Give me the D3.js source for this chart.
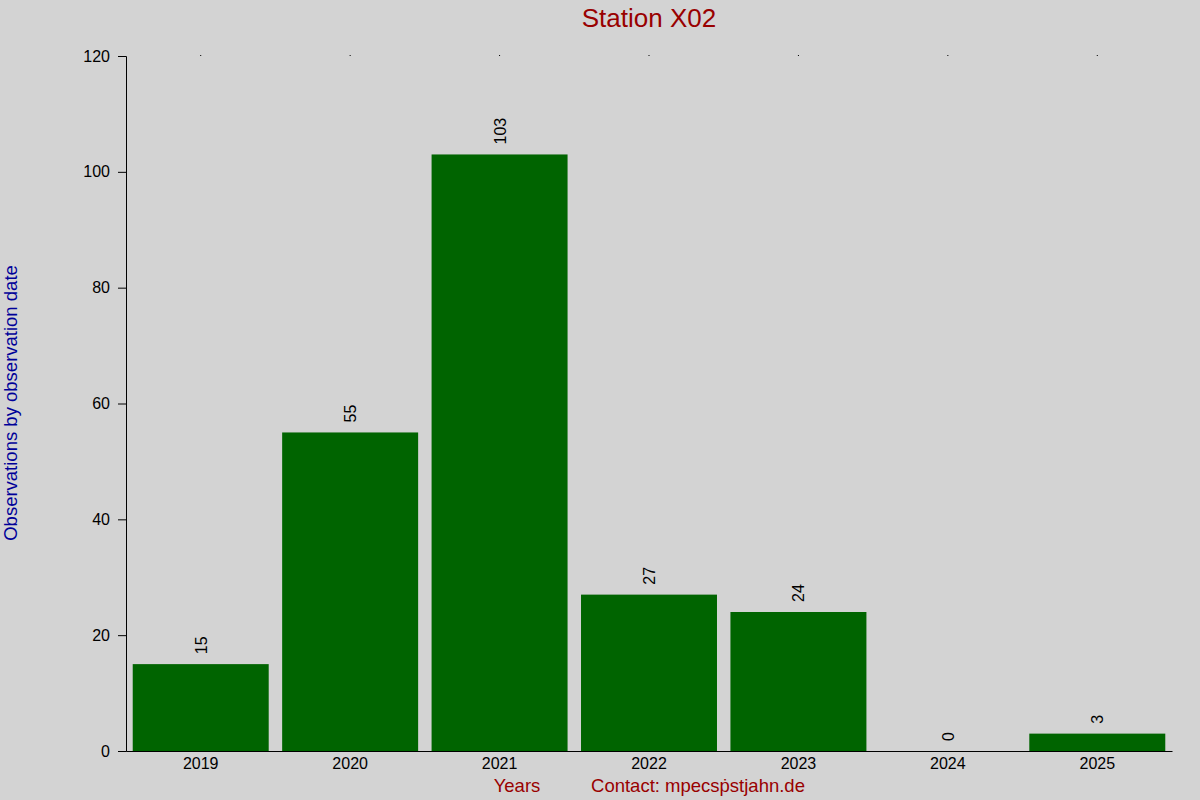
<!DOCTYPE html>
<html>
<head>
<meta charset="utf-8">
<script src="https://cdn.jsdelivr.net/npm/d3@7"></script>
<style>
  body { margin: 0; background: #d3d3d3; }
  text { font-family: "Liberation Sans", Arial, sans-serif; }
</style>
</head>
<body>
<script>
// Chart data
const years = ["2019", "2020", "2021", "2022", "2023", "2024", "2025"];
const counts = [15, 55, 103, 27, 24, 0, 3];
const yTicks = [0, 20, 40, 60, 80, 100, 120];

const width = 1200, height = 800;
const margin = { top: 56, right: 28, bottom: 49, left: 126 };

var svg = d3.select("body").append("svg")
    .attr("width", width)
    .attr("height", height)
    .style("background", "#d3d3d3");

var x = d3.scaleBand()
    .domain(years)
    .range([margin.left, width - margin.right])
    .paddingInner(0.09)
    .paddingOuter(0.045);

var y = d3.scaleLinear()
    .domain([0, 120])
    .range([height - margin.bottom, margin.top]);

// Bars
svg.selectAll(".bar")
    .data(years)
    .enter().append("rect")
    .attr("class", "bar")
    .attr("x", function(d) { return x(d); })
    .attr("y", function(d, i) { return y(counts[i]); })
    .attr("width", x.bandwidth())
    .attr("height", function(d, i) { return y(0) - y(counts[i]); })
    .attr("fill", "#006400");

// Value labels, rotated
svg.selectAll(".val")
    .data(years)
    .enter().append("text")
    .attr("class", "val")
    .attr("transform", function(d, i) {
        return "translate(" + (x(d) + x.bandwidth() / 2 + 6) + "," + (y(counts[i]) - 10) + ") rotate(-90)";
    })
    .attr("font-size", 16)
    .attr("fill", "#000")
    .text(function(d, i) { return counts[i]; });

// Y axis
var yAxis = svg.append("g")
    .attr("transform", "translate(" + margin.left + ",0)")
    .call(d3.axisLeft(y).tickValues(yTicks).tickSize(8).tickPadding(8));
yAxis.selectAll("text").attr("font-size", 16).attr("fill", "#000")
    .style("font-family", "Liberation Sans, Arial, sans-serif");
yAxis.selectAll("line, path").attr("stroke", "#000");

// X axis (no tick marks)
var xAxis = svg.append("g")
    .attr("transform", "translate(0," + y(0) + ")")
    .call(d3.axisBottom(x).tickSize(0).tickPadding(7).tickSizeOuter(0));
xAxis.selectAll("text").attr("font-size", 16).attr("fill", "#000")
    .style("font-family", "Liberation Sans, Arial, sans-serif");
xAxis.select("path").attr("stroke", "#000");

// tiny top tick dots
var topAxis = svg.append("g")
    .attr("transform", "translate(0," + margin.top + ")")
    .call(d3.axisTop(x).tickSize(1).tickFormat(""));
topAxis.select("path").remove();
topAxis.selectAll("line").attr("stroke", "#000");

// Title
svg.append("text")
    .attr("x", 649)
    .attr("y", 27)
    .attr("text-anchor", "middle")
    .attr("font-size", 26)
    .attr("fill", "#990000")
    .text("Station X02");

// Y label
svg.append("text")
    .attr("transform", "translate(17,403) rotate(-90)")
    .attr("text-anchor", "middle")
    .attr("font-size", 18.5)
    .attr("fill", "#000099")
    .text("Observations by observation date");

// Bottom labels
svg.append("text")
    .attr("x", 517)
    .attr("y", 792)
    .attr("text-anchor", "middle")
    .attr("font-size", 18.5)
    .attr("fill", "#990000")
    .text("Years");

svg.append("text")
    .attr("x", 698)
    .attr("y", 792)
    .attr("text-anchor", "middle")
    .attr("font-size", 18.5)
    .attr("fill", "#990000")
    .text("Contact: mpecsṗstjahn.de");
</script>
</body>
</html>
